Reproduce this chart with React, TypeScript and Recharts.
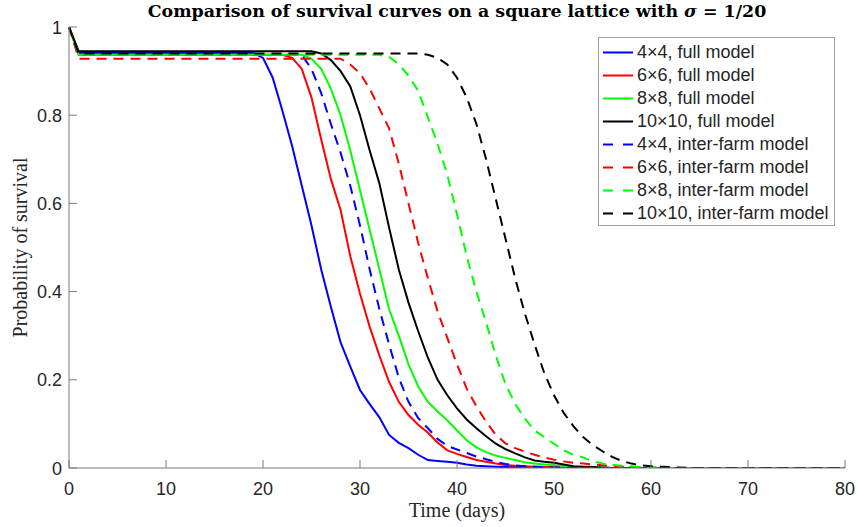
import React from 'react';
import { LineChart, Line, XAxis, YAxis, Legend } from 'recharts';

// days 0..80, one sample per day
const days = Array.from({ length: 81 }, (_, i) => i);

const xTicks = [0, 10, 20, 30, 40, 50, 60, 70, 80];
const yTicks = [0, 0.2, 0.4, 0.6, 0.8, 1];

// full model
const full4 = [
  1, 0.941, 0.941, 0.941, 0.941, 0.941, 0.941, 0.941, 0.941, 0.941, 0.941,
  0.941, 0.941, 0.941, 0.941, 0.941, 0.941, 0.941, 0.941, 0.941, 0.93,
  0.885, 0.81, 0.73, 0.64, 0.55, 0.45, 0.365, 0.285, 0.23, 0.177,
  0.145, 0.115, 0.075, 0.057, 0.045, 0.03, 0.018, 0.016, 0.014, 0.012,
  0.008, 0.005, 0.004, 0.003, 0.002, 0.002, 0.001, 0.001, 0.001, 0.001,
  0, 0, 0, 0, 0, 0, 0, 0, 0, 0,
  0, 0, 0, 0, 0, 0, 0, 0, 0, 0,
  0, 0, 0, 0, 0, 0, 0, 0, 0, 0,
];
const full6 = [
  1, 0.937, 0.937, 0.937, 0.937, 0.937, 0.937, 0.937, 0.937, 0.937, 0.937,
  0.937, 0.937, 0.937, 0.937, 0.937, 0.937, 0.937, 0.937, 0.937, 0.937,
  0.937, 0.937, 0.93, 0.905, 0.84, 0.745, 0.655, 0.585, 0.48, 0.395,
  0.32, 0.255, 0.195, 0.15, 0.12, 0.098, 0.08, 0.058, 0.04, 0.032,
  0.025, 0.018, 0.014, 0.01, 0.007, 0.005, 0.004, 0.003, 0.002, 0.002,
  0.001, 0.001, 0, 0, 0, 0, 0, 0, 0, 0,
  0, 0, 0, 0, 0, 0, 0, 0, 0, 0,
  0, 0, 0, 0, 0, 0, 0, 0, 0, 0,
];
const full8 = [
  1, 0.937, 0.937, 0.937, 0.937, 0.937, 0.937, 0.937, 0.937, 0.937, 0.937,
  0.937, 0.937, 0.937, 0.937, 0.937, 0.937, 0.937, 0.937, 0.937, 0.937,
  0.937, 0.937, 0.937, 0.937, 0.928, 0.905, 0.86, 0.8, 0.72, 0.63,
  0.54, 0.45, 0.36, 0.3, 0.235, 0.185, 0.15, 0.128, 0.108, 0.085,
  0.063, 0.047, 0.036, 0.028, 0.023, 0.018, 0.013, 0.01, 0.008, 0.006,
  0.005, 0.003, 0.002, 0.001, 0.001, 0, 0, 0, 0, 0,
  0, 0, 0, 0, 0, 0, 0, 0, 0, 0,
  0, 0, 0, 0, 0, 0, 0, 0, 0, 0,
];
const full10 = [
  1, 0.945, 0.945, 0.945, 0.945, 0.945, 0.945, 0.945, 0.945, 0.945, 0.945,
  0.945, 0.945, 0.945, 0.945, 0.945, 0.945, 0.945, 0.945, 0.945, 0.945,
  0.945, 0.945, 0.945, 0.945, 0.945, 0.94, 0.925, 0.9, 0.865, 0.8,
  0.72, 0.645, 0.545, 0.45, 0.375, 0.31, 0.25, 0.2, 0.165, 0.135,
  0.11, 0.09, 0.072, 0.055, 0.043, 0.033, 0.024, 0.017, 0.014, 0.012,
  0.008, 0.004, 0.003, 0.002, 0.001, 0, 0, 0, 0, 0,
  0, 0, 0, 0, 0, 0, 0, 0, 0, 0,
  0, 0, 0, 0, 0, 0, 0, 0, 0, 0,
];

// inter-farm model
const inter4 = [
  1, 0.937, 0.937, 0.937, 0.937, 0.937, 0.937, 0.937, 0.937, 0.937, 0.937,
  0.937, 0.937, 0.937, 0.937, 0.937, 0.937, 0.937, 0.937, 0.937, 0.937,
  0.937, 0.937, 0.937, 0.937, 0.905, 0.85, 0.78, 0.715, 0.64, 0.55,
  0.45, 0.36, 0.28, 0.205, 0.15, 0.113, 0.09, 0.066, 0.05, 0.042,
  0.034, 0.026, 0.02, 0.014, 0.009, 0.006, 0.004, 0.003, 0.002, 0.001,
  0.001, 0, 0, 0, 0, 0, 0, 0, 0, 0,
  0, 0, 0, 0, 0, 0, 0, 0, 0, 0,
  0, 0, 0, 0, 0, 0, 0, 0, 0, 0,
];
const inter6 = [
  1, 0.928, 0.928, 0.928, 0.928, 0.928, 0.928, 0.928, 0.928, 0.928, 0.928,
  0.928, 0.928, 0.928, 0.928, 0.928, 0.928, 0.928, 0.928, 0.928, 0.928,
  0.928, 0.928, 0.928, 0.928, 0.928, 0.928, 0.928, 0.928, 0.915, 0.895,
  0.86, 0.815, 0.77, 0.69, 0.6, 0.51, 0.43, 0.355, 0.295, 0.235,
  0.18, 0.14, 0.105, 0.075, 0.056, 0.045, 0.037, 0.03, 0.024, 0.019,
  0.015, 0.012, 0.01, 0.008, 0.006, 0.004, 0.003, 0.002, 0.001, 0,
  0, 0, 0, 0, 0, 0, 0, 0, 0, 0,
  0, 0, 0, 0, 0, 0, 0, 0, 0, 0,
];
const inter8 = [
  1, 0.937, 0.937, 0.937, 0.937, 0.937, 0.937, 0.937, 0.937, 0.937, 0.937,
  0.937, 0.937, 0.937, 0.937, 0.937, 0.937, 0.937, 0.937, 0.937, 0.937,
  0.937, 0.937, 0.937, 0.937, 0.937, 0.937, 0.937, 0.937, 0.937, 0.937,
  0.937, 0.937, 0.932, 0.915, 0.89, 0.855, 0.795, 0.735, 0.665, 0.575,
  0.48, 0.4, 0.33, 0.255, 0.19, 0.145, 0.112, 0.085, 0.07, 0.055,
  0.04, 0.03, 0.024, 0.015, 0.01, 0.007, 0.005, 0.004, 0.002, 0.002,
  0.001, 0, 0, 0, 0, 0, 0, 0, 0, 0,
  0, 0, 0, 0, 0, 0, 0, 0, 0, 0,
];
const inter10 = [
  1, 0.94, 0.94, 0.94, 0.94, 0.94, 0.94, 0.94, 0.94, 0.94, 0.94,
  0.94, 0.94, 0.94, 0.94, 0.94, 0.94, 0.94, 0.94, 0.94, 0.94,
  0.94, 0.94, 0.94, 0.94, 0.94, 0.94, 0.94, 0.94, 0.94, 0.94,
  0.94, 0.94, 0.94, 0.94, 0.94, 0.94, 0.937, 0.93, 0.915, 0.885,
  0.84, 0.78, 0.7, 0.61, 0.52, 0.43, 0.35, 0.28, 0.215, 0.165,
  0.125, 0.095, 0.07, 0.052, 0.038, 0.025, 0.016, 0.01, 0.006, 0.004,
  0.003, 0.002, 0.001, 0, 0, 0, 0, 0, 0, 0,
  0, 0, 0, 0, 0, 0, 0, 0, 0, 0,
];

const seriesKeys = ['full4', 'full6', 'full8', 'full10', 'inter4', 'inter6', 'inter8', 'inter10'];
const seriesValues = [full4, full6, full8, full10, inter4, inter6, inter8, inter10];
const seriesNames = [
  '4\u00d74, full model',
  '6\u00d76, full model',
  '8\u00d78, full model',
  '10\u00d710, full model',
  '4\u00d74, inter-farm model',
  '6\u00d76, inter-farm model',
  '8\u00d78, inter-farm model',
  '10\u00d710, inter-farm model',
];
const seriesColors = ['#0000ff', '#ff0000', '#00ff00', '#000000', '#0000ff', '#ff0000', '#00ff00', '#000000'];
const seriesDashed = [false, false, false, false, true, true, true, true];

const data = days.map((day, i) => {
  const row: Record<string, number> = { day };
  seriesKeys.forEach((k, s) => {
    row[k] = seriesValues[s][i];
  });
  return row;
});

const AXIS = '#7a7a7a';
const TEXT = '#262626';
const SANS = '"Liberation Sans", Arial, sans-serif';
const SERIF = '"Liberation Serif", "Times New Roman", serif';
const TITLE_SERIF = '"DejaVu Serif", serif';
const TICK = 8;

const BottomTick = (props: any) => {
  const { x, y, payload } = props;
  return (
    <g>
      <line x1={x} y1={y} x2={x} y2={y - TICK} stroke={AXIS} />
      <text x={x} y={y + 27} textAnchor="middle" fill={TEXT} fontSize={18} fontFamily={SANS}>
        {payload.value}
      </text>
    </g>
  );
};

const TopTick = (props: any) => {
  const { x, y } = props;
  return <line x1={x} y1={y} x2={x} y2={y + TICK} stroke={AXIS} />;
};

const LeftTick = (props: any) => {
  const { x, y, payload } = props;
  return (
    <g>
      <line x1={x} y1={y} x2={x + TICK} y2={y} stroke={AXIS} />
      <text x={x - 7} y={y + 6.5} textAnchor="end" fill={TEXT} fontSize={18} fontFamily={SANS}>
        {String(payload.value)}
      </text>
    </g>
  );
};

const RightTick = (props: any) => {
  const { x, y } = props;
  return <line x1={x} y1={y} x2={x - TICK} y2={y} stroke={AXIS} />;
};

const LegendBox = () => (
  <div
    style={{
      boxSizing: 'border-box',
      width: 237,
      height: 189,
      border: '1px solid #a0a0a0',
      background: '#fff',
      paddingTop: 3,
    }}
  >
    {seriesNames.map((name, i) => (
      <div key={name} style={{ display: 'flex', alignItems: 'center', height: 23 }}>
        <svg width={38} height={23} style={{ flex: 'none' }}>
          <line
            x1={4}
            y1={11.5}
            x2={34}
            y2={11.5}
            stroke={seriesColors[i]}
            strokeWidth={2}
            strokeDasharray={seriesDashed[i] ? '10 10' : undefined}
          />
        </svg>
        <span style={{ fontFamily: SANS, fontSize: 18, color: TEXT, whiteSpace: 'nowrap' }}>{name}</span>
      </div>
    ))}
  </div>
);

const App: React.FC = () => {
  return (
    <div style={{ position: 'absolute', left: 0, top: 0, width: 858, height: 527, background: '#fff' }}>
      <div
        style={{
          position: 'absolute',
          left: 0,
          top: 0,
          width: 914,
          textAlign: 'center',
          fontFamily: TITLE_SERIF,
          fontWeight: 'bold',
          fontSize: 17.4,
          color: '#000',
          lineHeight: '22px',
          zIndex: 2,
        }}
      >
        Comparison of survival curves on a square lattice with <i>σ</i> = 1/20
      </div>
      <LineChart width={858} height={527} data={data} margin={{ top: 27, right: 13, bottom: 0, left: 0 }}>
        <XAxis
          dataKey="day"
          type="number"
          domain={[0, 80]}
          ticks={xTicks}
          height={59}
          stroke={AXIS}
          tickLine={false}
          tickSize={0}
          tickMargin={0}
          tick={<BottomTick />}
          interval={0}
          label={{ value: 'Time (days)', position: 'insideBottom', offset: 10, fill: TEXT, fontSize: 20, fontFamily: SERIF }}
        />
        <XAxis
          xAxisId="top"
          orientation="top"
          dataKey="day"
          type="number"
          domain={[0, 80]}
          ticks={xTicks}
          height={0}
          stroke={AXIS}
          tickLine={false}
          tickSize={0}
          tickMargin={0}
          tick={<TopTick />}
          interval={0}
          allowDataOverflow
        />
        <YAxis
          type="number"
          domain={[0, 1]}
          ticks={yTicks}
          width={69}
          stroke={AXIS}
          tickLine={false}
          tickSize={0}
          tickMargin={0}
          tick={<LeftTick />}
          interval={0}
          allowDataOverflow
          label={{
            value: 'Probability of survival',
            angle: -90,
            position: 'insideLeft',
            offset: 20,
            style: { textAnchor: 'middle' },
            fill: TEXT,
            fontSize: 20,
            fontFamily: SERIF,
          }}
        />
        <YAxis
          yAxisId="right"
          orientation="right"
          type="number"
          domain={[0, 1]}
          ticks={yTicks}
          width={0}
          stroke={AXIS}
          tickLine={false}
          tickSize={0}
          tickMargin={0}
          tick={<RightTick />}
          interval={0}
          allowDataOverflow
        />
        {seriesKeys.map((k, i) => (
          <Line
            key={k}
            type="linear"
            dataKey={k}
            name={seriesNames[i]}
            stroke={seriesColors[i]}
            strokeWidth={2}
            strokeDasharray={seriesDashed[i] ? '10 7' : undefined}
            dot={false}
            activeDot={false}
            isAnimationActive={false}
          />
        ))}
        <Legend
          layout="vertical"
          align="center"
          verticalAlign="middle"
          wrapperStyle={{ left: 598, top: 37, width: 237, height: 189 }}
          content={() => <LegendBox />}
        />
      </LineChart>
    </div>
  );
};

export default App;
